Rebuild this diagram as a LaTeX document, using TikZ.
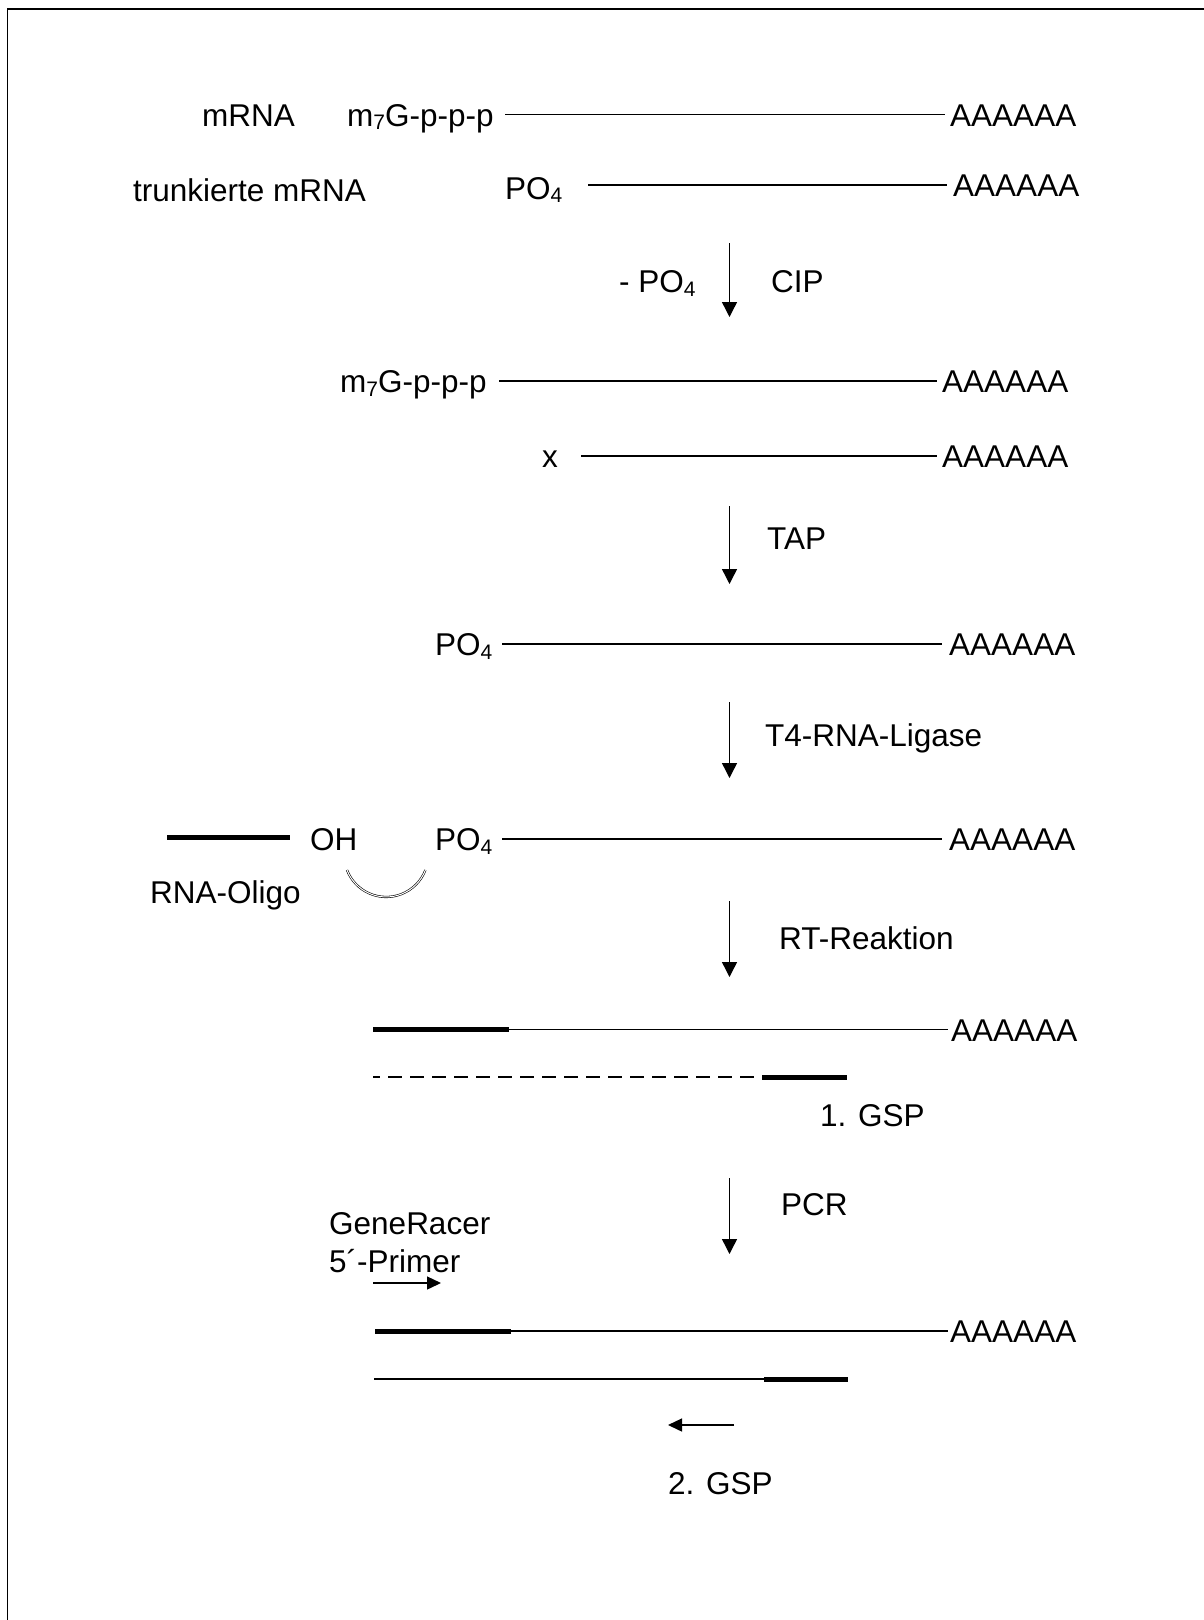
\documentclass[tikz,border=0pt]{standalone}
\usepackage{fontspec}
\setmainfont{Liberation Sans}
\usetikzlibrary{arrows.meta}
\newcommand{\mysub}[1]{\raisebox{-3.5pt}{\fontsize{21}{21}\selectfont #1}}
\tikzset{
  lbl/.style={inner sep=0pt, anchor=base west, font=\fontsize{31.5}{38}\selectfont},
  strand/.style={line width=1.5pt},
  thickstrand/.style={line width=5pt},
  steparrow/.style={line width=1.4pt, -{Triangle[width=15pt,length=15pt]}},
  primerarrow/.style={line width=1.4pt, -{Triangle[width=13pt,length=14pt]}},
  cdna/.style={line width=1.5pt, dash pattern=on 14pt off 8pt, dash phase=7pt},
}
\begin{document}
\begin{tikzpicture}[x=1pt,y=-1pt]
\useasboundingbox (0,0) rectangle (1204,1620);
% frame
\draw[line width=2.5pt] (7.5,9.2) -- (1204,9.2);
\draw[line width=1.5pt] (7.5,8) -- (7.5,1620);

% Row 1
\node[lbl] (mrna) at (202,126) {mRNA};
\node[lbl] (capA) at (347,126) {m\mysub{7}G-p-p-p};
\node[lbl] (polyA1) at (950,126) {AAAAAA};
\coordinate (r1s) at (505,114.5); \coordinate (r1e) at (945,114.5);
\draw[strand] (r1s) -- (r1e);

% Row 2
\node[lbl] (trunc) at (133,201) {trunkierte mRNA};
\node[lbl] (poA) at (505,199) {PO\mysub{4}};
\node[lbl] (polyA2) at (953,196.5) {AAAAAA};
\coordinate (r2s) at (588,185); \coordinate (r2e) at (947,185);
\draw[strand] (r2s) -- (r2e);

% Arrow 1
\coordinate (a1s) at (729.5,243); \coordinate (a1e) at (729.5,317);
\draw[steparrow] (a1s) -- (a1e);
\node[lbl] (minuspo) at (619,292.5) {- PO\mysub{4}};
\node[lbl] (cip) at (771,292.5) {CIP};

% Row 3
\node[lbl] (capB) at (340,392.5) {m\mysub{7}G-p-p-p};
\node[lbl] (polyA3) at (942,392.5) {AAAAAA};
\coordinate (r3s) at (499,381); \coordinate (r3e) at (937,381);
\draw[strand] (r3s) -- (r3e);

% Row 4
\node[lbl] (xx) at (542,467.5) {x};
\node[lbl] (polyA4) at (942,467.5) {AAAAAA};
\coordinate (r4s) at (581,456); \coordinate (r4e) at (937,456);
\draw[strand] (r4s) -- (r4e);

% Arrow 2
\coordinate (a2s) at (729.5,506); \coordinate (a2e) at (729.5,584);
\draw[steparrow] (a2s) -- (a2e);
\node[lbl] (tap) at (767,549) {TAP};

% Row 5
\node[lbl] (poB) at (435,655.5) {PO\mysub{4}};
\node[lbl] (polyA5) at (949,655.5) {AAAAAA};
\coordinate (r5s) at (502,644); \coordinate (r5e) at (942,644);
\draw[strand] (r5s) -- (r5e);

% Arrow 3
\coordinate (a3s) at (729.5,702); \coordinate (a3e) at (729.5,778);
\draw[steparrow] (a3s) -- (a3e);
\node[lbl] (lig) at (765,746) {T4-RNA-Ligase};

% Row 6
\coordinate (olS) at (167,837); \coordinate (olE) at (290,837);
\draw[thickstrand] (olS) -- (olE);
\node[lbl] (oh) at (310,850.5) {OH};
\node[lbl] (poC) at (435,850.5) {PO\mysub{4}};
\node[lbl] (polyA6) at (949,850.5) {AAAAAA};
\coordinate (r6s) at (502,839); \coordinate (r6e) at (942,839);
\draw[strand] (r6s) -- (r6e);
\node[lbl] (oligo) at (150,903) {RNA-Oligo};
\coordinate (arcS) at (347,870);
\draw[line width=0.6pt, double=white, double distance=1pt] (arcS) arc[start angle=159, end angle=21, radius=42];

% Arrow 4
\coordinate (a4s) at (729.5,901); \coordinate (a4e) at (729.5,977);
\draw[steparrow] (a4s) -- (a4e);
\node[lbl] (rt) at (779,949) {RT-Reaktion};

% Row 7
\coordinate (r7a) at (373,1029.5); \coordinate (r7b) at (509,1029.5); \coordinate (r7c) at (948,1029.5);
\draw[thickstrand] (r7a) -- (r7b);
\draw[strand] (r7b) -- (r7c);
\node[lbl] (polyA7) at (951,1041) {AAAAAA};
\coordinate (r7d) at (373,1077); \coordinate (r7e) at (762,1077); \coordinate (r7f) at (847,1077);
\draw[cdna] (r7d) -- (r7e);
\draw[thickstrand] (r7e) -- (r7f);
\node[lbl] (gsp1) at (820,1126) {1. GSP};

% Arrow 5
\coordinate (a5s) at (729.5,1178); \coordinate (a5e) at (729.5,1254);
\draw[steparrow] (a5s) -- (a5e);
\node[lbl] (pcr) at (781,1215) {PCR};
\node[lbl] (gr1) at (329,1234) {GeneRacer};
\node[lbl] (gr2) at (329,1272) {5´-Primer};
\coordinate (p1s) at (373,1283); \coordinate (p1e) at (441,1283);
\draw[primerarrow] (p1s) -- (p1e);

% Row 8
\coordinate (r8a) at (375,1331); \coordinate (r8b) at (511,1331); \coordinate (r8c) at (948,1331);
\draw[thickstrand] (r8a) -- (r8b);
\draw[strand] (r8b) -- (r8c);
\node[lbl] (polyA8) at (950,1342.5) {AAAAAA};
\coordinate (r8d) at (374,1379); \coordinate (r8e) at (764,1379); \coordinate (r8f) at (848,1379);
\draw[strand] (r8d) -- (r8e);
\draw[thickstrand] (r8e) -- (r8f);
\coordinate (p2s) at (734,1425); \coordinate (p2e) at (668,1425);
\draw[primerarrow] (p2s) -- (p2e);
\node[lbl] (gsp2) at (668,1494) {2. GSP};
\end{tikzpicture}
\end{document}
